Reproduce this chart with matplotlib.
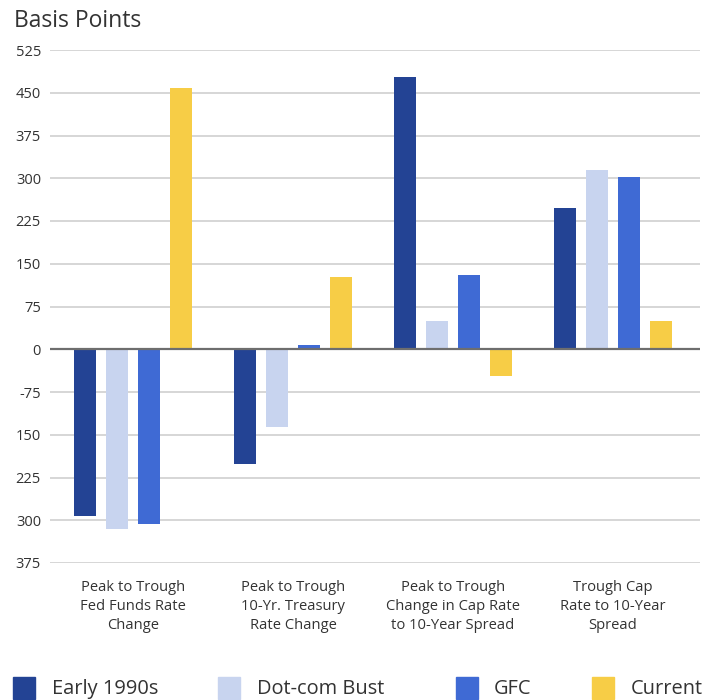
import numpy as np
import matplotlib
matplotlib.use("Agg")
import matplotlib.pyplot as plt
from matplotlib.patches import Rectangle

plt.rcParams['font.family'] = ['Open Sans', 'DejaVu Sans']

# ------------------- Data -------------------
categories = [
    "Peak to Trough\nFed Funds Rate\nChange",
    "Peak to Trough\n10-Yr. Treasury\nRate Change",
    "Peak to Trough\nChange in Cap Rate\nto 10-Year Spread",
    "Trough Cap\nRate to 10-Year\nSpread",
]
series_names = ["Early 1990s", "Dot-com Bust", "GFC", "Current"]
early_1990s = [-292, -202, 478, 247]
dot_com_bust = [-315, -137, 50, 314]
gfc = [-306, 8, 131, 303]
current = [458, 127, -47, 50]
colors = ["#234394", "#c8d4ef", "#3f6ad4", "#f7cd46"]

y_ticks = [525, 450, 375, 300, 225, 150, 75, 0, -75, -150, -225, -300, -375]
y_tick_labels = ["525", "450", "375", "300", "225", "150", "75", "0",
                 "-75", "150", "225", "300", "375"]

# ------------------- Figure -------------------
W, H = 712, 700
fig = plt.figure(figsize=(W / 100, H / 100), dpi=100)
ax = fig.add_axes([50 / W, 1 - 563 / H, 650 / W, (563 - 50) / H])

x = np.arange(len(categories))
width = 0.1375
offsets = [-0.3, -0.1, 0.1, 0.3]
all_series = [early_1990s, dot_com_bust, gfc, current]

for vals, off, col, name in zip(all_series, offsets, colors, series_names):
    ax.bar(x + off, vals, width, color=col, label=name, zorder=3)

ax.set_ylim(-375, 525)
ax.set_xlim(-83 / 160, 567 / 160)
ax.set_yticks(y_ticks)
ax.set_yticklabels(y_tick_labels)
ax.yaxis.grid(True, color="#cccccc", linewidth=1.1, zorder=0)
ax.axhline(0, color="#6e6e6e", linewidth=1.6, zorder=4)

ax.set_xticks(x)
ax.set_xticklabels(categories, fontsize=10.6, color="#333333", linespacing=1.4)
ax.tick_params(axis="x", length=0, pad=12)
ax.tick_params(axis="y", length=0, pad=6.5, labelsize=10.5, labelcolor="#333333")
for s in ax.spines.values():
    s.set_visible(False)

fig.text(14 / W, 1 - 27 / H, "Basis Points", fontsize=16.5, color="#333333",
         ha="left", va="baseline")

# Legend drawn manually to match spacing
swatch_x = [13, 218, 456, 592]
text_x = [52, 257, 494, 631]
for sx, tx, col, name in zip(swatch_x, text_x, colors, series_names):
    fig.add_artist(Rectangle((sx / W, 1 - 699 / H), 22 / W, 22 / H,
                             transform=fig.transFigure, color=col))
    fig.text(tx / W, 1 - 689 / H, name, fontsize=14.4, color="#333333",
             ha="left", va="center")

fig.savefig("out.png", dpi=100)
